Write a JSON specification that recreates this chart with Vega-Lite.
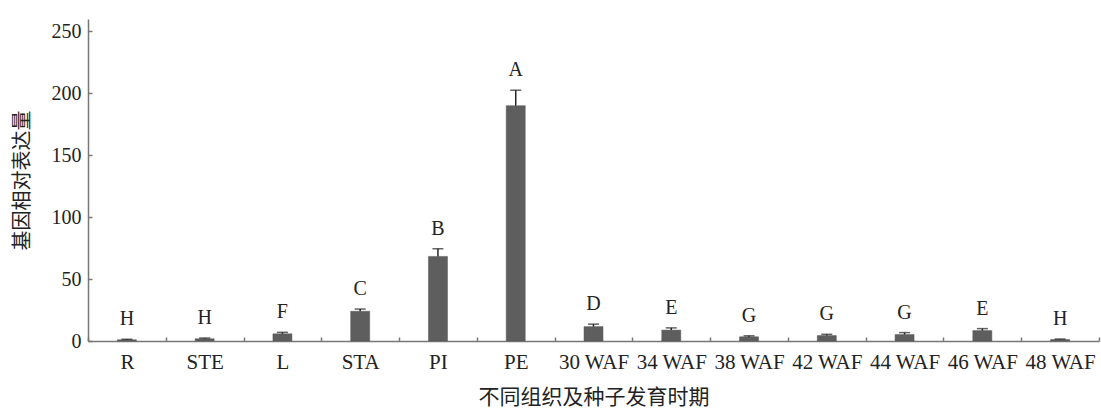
{
  "$schema": "https://vega.github.io/schema/vega-lite/v6.json",
  "width": 1011,
  "height": 322,
  "autosize": "none",
  "padding": {"left": 88, "top": 19, "right": 2, "bottom": 69},
  "background": "white",
  "config": {"view": {"stroke": null}},
  "data": {"values": [
    {"stage": "R", "value": 1.0, "upper": 1.4, "letter": "H"},
    {"stage": "STE", "value": 1.8, "upper": 2.4, "letter": "H"},
    {"stage": "L", "value": 5.8, "upper": 7.0, "letter": "F"},
    {"stage": "STA", "value": 24.0, "upper": 25.8, "letter": "C"},
    {"stage": "PI", "value": 68.3, "upper": 74.5, "letter": "B"},
    {"stage": "PE", "value": 190.0, "upper": 202.5, "letter": "A"},
    {"stage": "30 WAF", "value": 11.6, "upper": 13.6, "letter": "D"},
    {"stage": "34 WAF", "value": 8.8, "upper": 10.6, "letter": "E"},
    {"stage": "38 WAF", "value": 3.4, "upper": 4.2, "letter": "G"},
    {"stage": "42 WAF", "value": 4.4, "upper": 5.4, "letter": "G"},
    {"stage": "44 WAF", "value": 5.2, "upper": 6.8, "letter": "G"},
    {"stage": "46 WAF", "value": 8.4, "upper": 10.0, "letter": "E"},
    {"stage": "48 WAF", "value": 1.2, "upper": 1.6, "letter": "H"}
  ]},
  "encoding": {
    "x": {
      "field": "stage", "type": "nominal", "sort": null,
      "scale": {"paddingInner": 0, "paddingOuter": 0},
      "axis": {
        "title": "不同组织及种子发育时期",
        "titleFont": "Noto Sans CJK SC", "titleFontSize": 21, "titleFontWeight": "normal",
        "titleColor": "#222", "titleBaseline": "middle", "titleY": 56,
        "labelAngle": 0, "labelFont": "Liberation Serif", "labelFontSize": 21,
        "labelColor": "#222", "labelPadding": 25, "labelBaseline": "middle",
        "tickBand": "extent", "tickSize": -4, "tickColor": "#777", "tickWidth": 1.5,
        "domainColor": "#777", "domainWidth": 1.5, "grid": false
      }
    }
  },
  "layer": [
    {
      "mark": {"type": "bar", "width": 19, "color": "#5e5e5e", "stroke": "#555", "strokeWidth": 0.5},
      "encoding": {
        "y": {
          "field": "value", "type": "quantitative",
          "scale": {"domain": [0, 250]},
          "axis": {
            "title": "基因相对表达量", "values": [0, 50, 100, 150, 200, 250],
            "titleFont": "Noto Sans CJK SC", "titleFontSize": 20, "titleFontWeight": "normal",
            "titleColor": "#222", "titleX": -66, "titleY": 161, "titleAngle": -90,
            "titleBaseline": "middle", "titleAlign": "center",
            "labelFont": "Liberation Serif", "labelFontSize": 20, "labelColor": "#222",
            "labelPadding": 11, "tickSize": -4, "tickColor": "#777", "tickWidth": 1.5,
            "domainColor": "#777", "domainWidth": 1.5, "grid": false
          }
        }
      }
    },
    {
      "mark": {"type": "rule", "color": "#222", "strokeWidth": 1.5},
      "encoding": {"y": {"field": "value", "type": "quantitative"}, "y2": {"field": "upper"}}
    },
    {
      "mark": {"type": "tick", "orient": "horizontal", "color": "#222", "size": 11, "thickness": 1.5},
      "encoding": {"y": {"field": "upper", "type": "quantitative"}}
    },
    {
      "mark": {"type": "text", "font": "Liberation Serif", "fontSize": 20, "color": "#222", "baseline": "bottom", "dy": -10},
      "encoding": {"y": {"field": "upper", "type": "quantitative"}, "text": {"field": "letter"}}
    }
  ]
}
